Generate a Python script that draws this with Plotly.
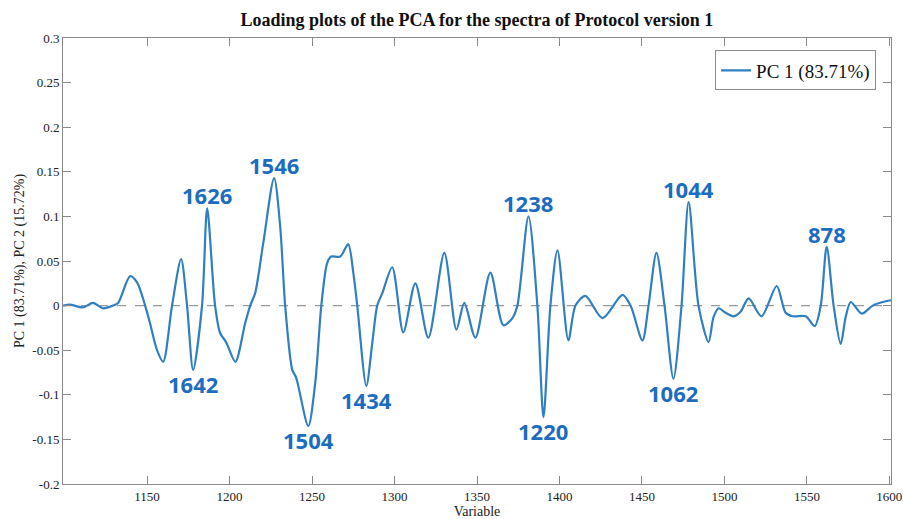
import plotly.graph_objects as go

# PC 1 loading curve (variable index vs loading)
variable = [
    1099, 1103.2, 1111.1, 1117.2, 1123.3, 1129.3, 1132.4, 1139.7, 1143.9, 1148.8,
    1151.8, 1156.0, 1159.7, 1165.1, 1170.6, 1174.2, 1177.9, 1183.3, 1186.4, 1191.2,
    1194.3, 1197.9, 1203.5, 1209.4, 1212.5, 1215.5, 1220.4, 1227.0, 1230.7, 1233.7,
    1238.0, 1240.4, 1247.7, 1251.9, 1255.6, 1259.2, 1261.6, 1267.1, 1271.9, 1275.0,
    1277.4, 1282.9, 1286.5, 1289.5, 1292.6, 1298.6, 1305.3, 1312.6, 1320.5, 1330.2,
    1337.5, 1342.3, 1349.0, 1358.1, 1366.0, 1371.5, 1374.5, 1381.2, 1386.6, 1390.3,
    1394.5, 1398.8, 1405.4, 1409.7, 1415.7, 1426.1, 1438.2, 1443.1, 1450.3, 1454.0,
    1458.8, 1463.7, 1469.1, 1474.0, 1478.3, 1484.3, 1490.4, 1493.4, 1496.5, 1500.7,
    1505.6, 1509.8, 1514.7, 1522.5, 1531.7, 1537.1, 1541.4, 1549.3, 1554.7, 1558.4,
    1562.0, 1566.2, 1570.5, 1573.5, 1576.6, 1583.2, 1589.9, 1596.0, 1601.0,
]
pc1_loading = [
    0.000, 0.001, -0.002, 0.003, -0.003, 0.000, 0.003, 0.033, 0.026, 0.000,
    -0.020, -0.050, -0.063, 0.000, 0.052, 0.000, -0.072, 0.000, 0.109, 0.000,
    -0.031, -0.041, -0.063, -0.020, 0.000, 0.014, 0.070, 0.143, 0.088, 0.000,
    -0.072, -0.081, -0.135, -0.087, 0.000, 0.048, 0.055, 0.055, 0.069, 0.037,
    0.000, -0.090, -0.042, 0.000, 0.014, 0.043, -0.030, 0.025, -0.036, 0.059,
    -0.027, 0.003, -0.036, 0.037, -0.022, -0.014, 0.000, 0.100, 0.000, -0.125,
    0.000, 0.062, -0.039, 0.000, 0.011, -0.014, 0.012, 0.000, -0.039, 0.000,
    0.059, 0.000, -0.082, 0.000, 0.116, 0.000, -0.041, -0.013, -0.003, -0.008,
    -0.012, -0.007, 0.008, -0.012, 0.022, -0.008, -0.012, -0.012, -0.023, 0.000,
    0.066, 0.000, -0.043, -0.013, 0.004, -0.009, 0.000, 0.004, 0.006,
]

# Wavenumber labels attached to the main peaks / troughs
peak_labels = ["1626", "1642", "1546", "1504", "1434", "1238", "1220", "1062", "1044", "878"]
peak_variables = [1186.4, 1177.9, 1227.0, 1247.7, 1282.9, 1381.2, 1390.3, 1469.1, 1478.3, 1562.0]

x_ticks = [1150, 1200, 1250, 1300, 1350, 1400, 1450, 1500, 1550, 1600]
y_ticks = [-0.2, -0.15, -0.1, -0.05, 0, 0.05, 0.1, 0.15, 0.2, 0.25, 0.3]
y_tick_text = ["-0.2", "-0.15", "-0.1", "-0.05", "0", "0.05", "0.1", "0.15", "0.2", "0.25", "0.3"]

LINE_BLUE = "#2f7fc1"
LABEL_BLUE = "#1c6cbf"
FRAME = "#8a8a8a"
SERIF = "Liberation Serif"

fig = go.Figure()
fig.add_trace(go.Scatter(
    x=variable, y=pc1_loading, mode="lines", name="PC 1 (83.71%)",
    line=dict(color=LINE_BLUE, width=2.2, shape="spline", smoothing=0.8),
))

# dashed zero reference line
fig.add_shape(type="line", xref="paper", x0=0, x1=1, yref="y", y0=0, y1=0,
              line=dict(color="#9a9a9a", width=1.2, dash="dash"), layer="below")

for text, v in zip(peak_labels, peak_variables):
    val = pc1_loading[variable.index(v)]
    fig.add_annotation(
        x=v, y=val, text=f"<b>{text}</b>", showarrow=False,
        xanchor="center", yanchor="middle", yshift=13 if val > 0 else -14,
        font=dict(family="Open Sans", size=22, color=LABEL_BLUE),
    )

axis_common = dict(
    showline=True, linecolor=FRAME, linewidth=1, mirror="allticks",
    ticks="inside", ticklen=8, tickcolor=FRAME, showgrid=False, zeroline=False,
    automargin=False,
    tickfont=dict(family=SERIF, size=13, color="#222"),
)

fig.update_xaxes(
    range=[1099, 1601], tickvals=x_ticks,
    title=dict(text="Variable", font=dict(family=SERIF, size=14, color="#222"), standoff=2),
    **axis_common,
)
fig.update_yaxes(
    range=[-0.2, 0.3], tickvals=y_ticks, ticktext=y_tick_text,
    title=dict(text="PC 1 (83.71%), PC 2 (15.72%)", font=dict(family=SERIF, size=14, color="#222"), standoff=4),
    **axis_common,
)

fig.update_layout(
    width=903, height=519,
    margin=dict(l=63, r=12, t=38, b=35),
    paper_bgcolor="white", plot_bgcolor="white",
    title=dict(text="<b>Loading plots of the PCA for the spectra of Protocol version 1</b>",
               x=0.528, xanchor="center", y=0.962, yanchor="middle",
               font=dict(family=SERIF, size=18, color="#111")),
    showlegend=True,
    legend=dict(x=0.982, xanchor="right", y=0.972, yanchor="top",
                bgcolor="white", bordercolor=FRAME, borderwidth=1,
                font=dict(family=SERIF, size=19, color="#111")),
)

fig.write_html("out.html")
